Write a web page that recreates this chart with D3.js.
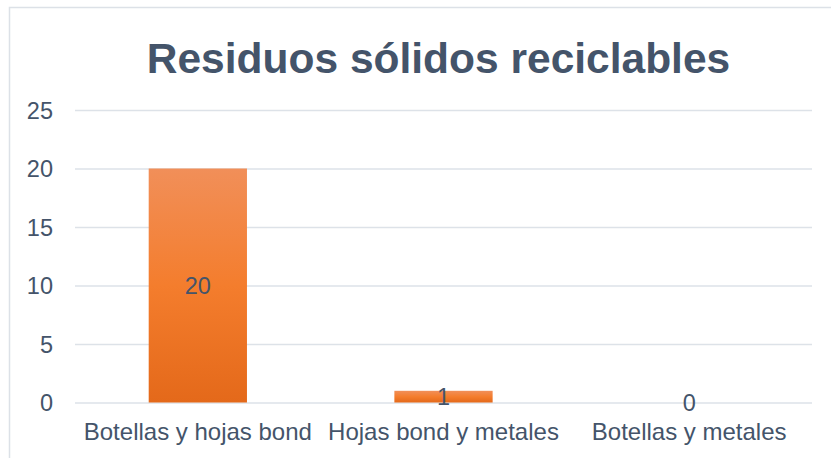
<!DOCTYPE html>
<html>
<head>
<meta charset="utf-8">
<script src="https://cdn.jsdelivr.net/npm/d3@7"></script>
<style>
  html, body { margin: 0; padding: 0; background: #fff; }
  svg { display: block; font-family: "Liberation Sans", Arial, sans-serif; }
</style>
</head>
<body>
<svg id="chart" width="831" height="458"></svg>
<script>
const categories = ["Botellas y hojas bond", "Hojas bond y metales", "Botellas y metales"];
const values = [20, 1, 0];
const yTicks = [0, 5, 10, 15, 20, 25];
const title = "Residuos sólidos reciclables";

const W = 831, H = 458;
const margin = { left: 75, right: 19, top: 110, bottom: 55.5 };
const textColor = "#44546A";
const gridColor = "#DDE2E8";

const svg = d3.select("#chart");

// outer frame
svg.append("rect")
  .attr("x", 9.5).attr("y", 7.5)
  .attr("width", 840).attr("height", 470)
  .attr("fill", "#fff")
  .attr("stroke", "#DCE1E7").attr("stroke-width", 1.5);

// gradient
const defs = svg.append("defs");
const grad = defs.append("linearGradient")
  .attr("id", "barGrad").attr("x1", 0).attr("y1", 0).attr("x2", 0).attr("y2", 1);
grad.append("stop").attr("offset", "0%").attr("stop-color", "#F18F59");
grad.append("stop").attr("offset", "50%").attr("stop-color", "#F47D2D");
grad.append("stop").attr("offset", "100%").attr("stop-color", "#E4691A");

const x = d3.scaleBand()
  .domain(categories)
  .range([margin.left, W - margin.right])
  .paddingInner(0.6)
  .paddingOuter(0.3);

const y = d3.scaleLinear()
  .domain([0, 25])
  .range([H - margin.bottom, margin.top]);

// y axis with gridlines
const yAxis = svg.append("g")
  .attr("transform", `translate(${margin.left},0)`)
  .call(d3.axisLeft(y).tickValues(yTicks).tickSize(-(W - margin.right - margin.left)).tickPadding(22));
yAxis.select(".domain").remove();
yAxis.selectAll(".tick line").attr("stroke", gridColor).attr("stroke-width", 1.5);
yAxis.selectAll(".tick text")
  .attr("fill", textColor)
  .style("font-size", "23.5px")
  .style("font-family", "'Liberation Sans', Arial, sans-serif")
  .attr("dy", "0.34em");

// bars
svg.append("g").selectAll("rect")
  .data(values)
  .join("rect")
  .attr("x", (d, i) => x(categories[i]))
  .attr("y", d => y(d))
  .attr("width", x.bandwidth())
  .attr("height", d => y(0) - y(d))
  .attr("fill", "url(#barGrad)");

// x axis labels
const xAxis = svg.append("g")
  .attr("transform", `translate(0,${y(0)})`)
  .call(d3.axisBottom(x).tickSize(0).tickPadding(20.5));
xAxis.select(".domain").remove();
xAxis.selectAll(".tick text")
  .attr("fill", textColor)
  .style("font-size", "24px")
  .style("font-family", "'Liberation Sans', Arial, sans-serif");

// data labels (centered in bar)
svg.append("g").selectAll("text")
  .data(values)
  .join("text")
  .attr("x", (d, i) => x(categories[i]) + x.bandwidth() / 2)
  .attr("y", d => (y(d) + y(0)) / 2)
  .attr("dy", "0.35em")
  .attr("text-anchor", "middle")
  .attr("fill", textColor)
  .style("font-size", "23.5px")
  .text(d => d);

// title
svg.append("text")
  .attr("x", 438.5)
  .attr("y", 72.7)
  .attr("text-anchor", "middle")
  .attr("fill", textColor)
  .style("font-size", "42.5px")
  .style("font-weight", "bold")
  .text(title);
</script>
</body>
</html>
